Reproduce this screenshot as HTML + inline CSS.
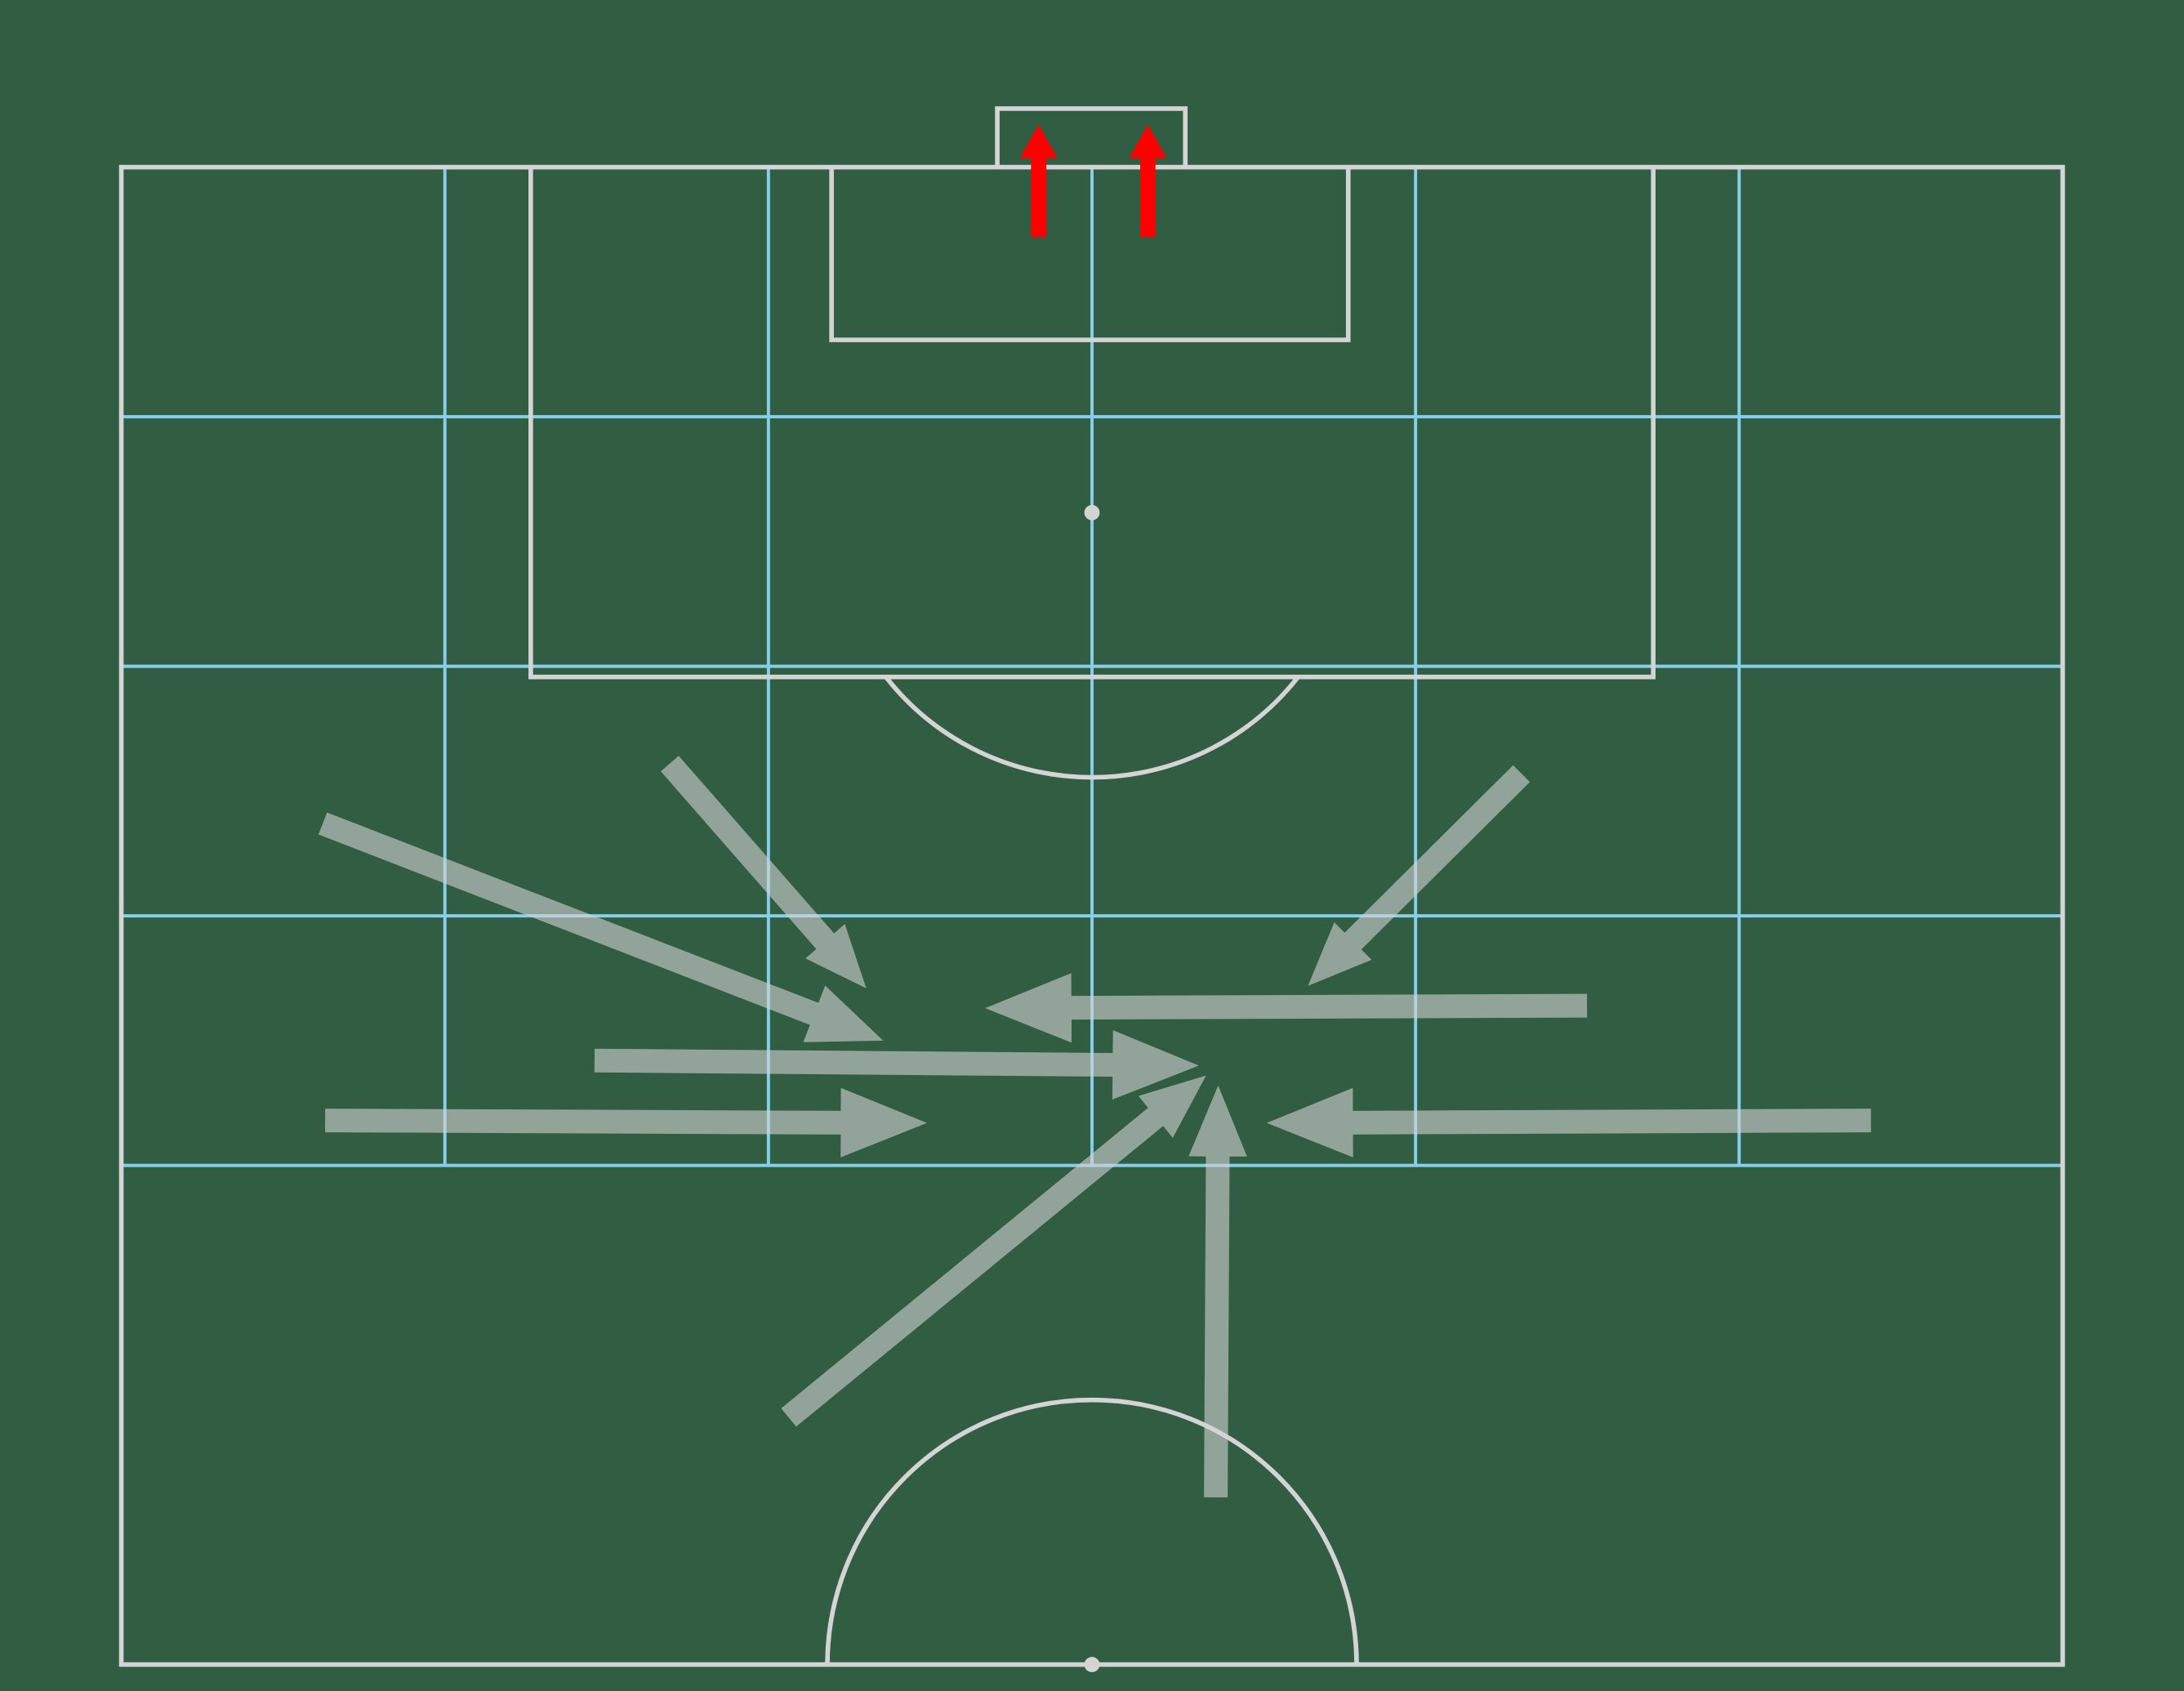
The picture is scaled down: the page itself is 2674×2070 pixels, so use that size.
<!DOCTYPE html>
<html><head><meta charset="utf-8"><style>html,body{margin:0;padding:0;background:#315e42;}svg{display:block}</style></head>
<body>
<svg id="chart" xmlns="http://www.w3.org/2000/svg" width="2674" height="2070" viewBox="0 0 1568 1214">
<rect x="0" y="0" width="1568" height="1214" fill="#315e42"/>
<g id="grid" stroke="#87ceeb" stroke-width="2.3" fill="none"></g>
<g id="lines" stroke="#d4d4d4" stroke-width="3.3" fill="none">
<rect x="87" y="120" width="1394" height="1075"/>
<path d="M381 120 V486 H1187 V120"/>
<path d="M597 120 V244 H968 V120"/>
<path d="M716 120 V78 H851 V120"/>
<path d="M636 486 A188 188 0 0 0 932 486"/>
<path d="M594 1195 A190 190 0 0 1 974 1195"/>
</g>
<circle cx="784" cy="368" r="5.5" fill="#d4d4d4"/>
<circle cx="784" cy="1195" r="5.5" fill="#d4d4d4"/>
<g id="arrows"></g>
</svg>
<script>
// data in pitch units: x = length (toward goal at 120), y = width (0-80)
const passStartX = [93.7, 96.1, 95.7, 86.4, 84.2, 81.8, 81.8, 69.9, 66.7];
const passStartY = [8.3, 22.6, 57.7, 60.4, 19.5, 8.4, 72.1, 27.5, 45.1];
const passEndX   = [85.0, 87.1, 87.2, 86.3, 84.0, 81.7, 81.7, 83.6, 83.2];
const passEndY   = [31.4, 30.7, 48.9, 35.6, 44.4, 33.2, 47.2, 44.7, 45.2];
const shotStartX = [117.2, 117.2];
const shotStartY = [37.8, 42.3];
const shotEndX   = [121.7, 121.7];
const shotEndY   = [37.8, 42.3];
const gridX = [110, 100, 90, 80];
const gridY = [40/3, 80/3, 40, 160/3, 200/3];

const sx = y => 87 + y * 17.425;
const sy = x => 120 + (120 - x) * 17.917;
const NS = 'http://www.w3.org/2000/svg';
const grid = document.getElementById('grid');
gridX.forEach((v,i)=>{
  const l = document.createElementNS(NS,'line');
  l.setAttribute('x1',87);l.setAttribute('x2',1481);l.setAttribute('y1',sy(v));l.setAttribute('y2',sy(v));
  
  
  grid.appendChild(l);
});
gridY.forEach((v,i)=>{
  const l = document.createElementNS(NS,'line');
  l.setAttribute('y1',120);l.setAttribute('y2',837);l.setAttribute('x1',sx(v));l.setAttribute('x2',sx(v));
  
  
  grid.appendChild(l);
});
function arrowPts(x1,y1,x2,y2,w,hw,hl){
  const dx=x2-x1, dy=y2-y1, L=Math.hypot(dx,dy), ux=dx/L, uy=dy/L, nx=-uy, ny=ux;
  const bx=x2-ux*hl, by=y2-uy*hl;
  const p=[[x1+nx*w/2,y1+ny*w/2],[bx+nx*w/2,by+ny*w/2],[bx+nx*hw/2,by+ny*hw/2],[x2,y2],
           [bx-nx*hw/2,by-ny*hw/2],[bx-nx*w/2,by-ny*w/2],[x1-nx*w/2,y1-ny*w/2]];
  return p.map(q=>q[0].toFixed(1)+','+q[1].toFixed(1)).join(' ');
}
function headDims(x1,y1,x2,y2){
  const a=Math.atan2(y2-y1,x2-x1), c=Math.cos(a), s=Math.sin(a);
  const hw=50*c*c+42*s*s-16*Math.abs(s*c);
  const hl=62*c*c+51*s*s-22*Math.abs(s*c);
  return [hw,hl];
}
const g = document.getElementById('arrows');
passStartX.forEach((_,i)=>{
  const x1=sx(passStartY[i]), y1=sy(passStartX[i]), x2=sx(passEndY[i]), y2=sy(passEndX[i]);
  const [hw,hl]=headDims(x1,y1,x2,y2);
  const p = document.createElementNS(NS,'polygon');
  p.setAttribute('points', arrowPts(x1,y1,x2,y2,17,hw,hl));
  p.setAttribute('fill','#d3d3d3');p.setAttribute('fill-opacity','0.6');
  
  
  g.appendChild(p);
});
shotStartX.forEach((_,i)=>{
  const p = document.createElementNS(NS,'polygon');
  p.setAttribute('points', arrowPts(sx(shotStartY[i]),sy(shotStartX[i]),sx(shotEndY[i]),sy(shotEndX[i]),11,27,24));
  p.setAttribute('fill','#ff0000');
  
  
  g.appendChild(p);
});
</script>
</body></html>
